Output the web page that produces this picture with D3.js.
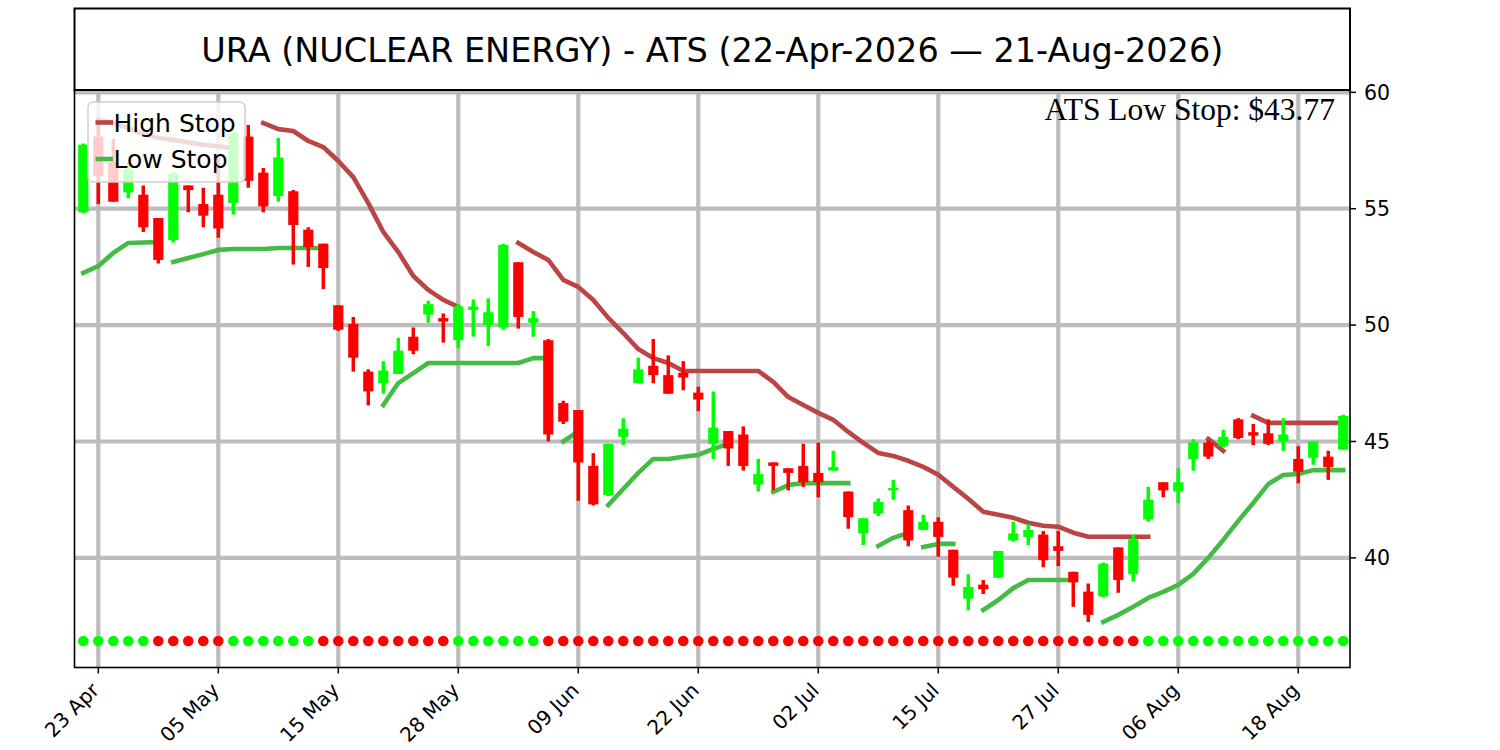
<!DOCTYPE html>
<html><head><meta charset="utf-8">
<script src="https://cdn.jsdelivr.net/npm/d3@7"></script>
<style>body{margin:0;background:#fff}svg{display:block}</style>
</head><body>
<svg id="c" width="1500" height="750"></svg>
<script>
const dates = ["2026-04-22","2026-04-23","2026-04-24","2026-04-27","2026-04-28","2026-04-29","2026-04-30",
"2026-05-01","2026-05-04","2026-05-05","2026-05-06","2026-05-07","2026-05-08","2026-05-11","2026-05-12","2026-05-13","2026-05-14","2026-05-15","2026-05-18","2026-05-19","2026-05-20","2026-05-21","2026-05-22","2026-05-26","2026-05-27","2026-05-28","2026-05-29",
"2026-06-01","2026-06-02","2026-06-03","2026-06-04","2026-06-05","2026-06-08","2026-06-09","2026-06-10","2026-06-11","2026-06-12","2026-06-15","2026-06-16","2026-06-17","2026-06-18","2026-06-22","2026-06-23","2026-06-24","2026-06-25","2026-06-26","2026-06-29","2026-06-30",
"2026-07-01","2026-07-02","2026-07-06","2026-07-07","2026-07-08","2026-07-09","2026-07-10","2026-07-13","2026-07-14","2026-07-15","2026-07-16","2026-07-17","2026-07-20","2026-07-21","2026-07-22","2026-07-23","2026-07-24","2026-07-27","2026-07-28","2026-07-29","2026-07-30","2026-07-31",
"2026-08-03","2026-08-04","2026-08-05","2026-08-06","2026-08-07","2026-08-10","2026-08-11","2026-08-12","2026-08-13","2026-08-14","2026-08-17","2026-08-18","2026-08-19","2026-08-20","2026-08-21"];

const open  = [54.85,58.1,57.0,55.7,55.6,54.6,53.65,56.0,55.2,55.6,55.25,58.1,56.55,55.55,55.75,54.1,53.5,50.85,50.05,48.0,47.5,47.9,49.5,50.45,50.3,49.35,50.65,50.0,49.9,52.7,50.1,49.35,46.65,46.35,43.95,42.7,45.2,47.5,48.25,47.85,47.95,47.1,44.9,45.45,45.3,43.15,44.1,43.85,43.95,43.65,43.75,42.85,41.05,41.9,42.9,42.05,41.2,41.55,40.35,38.25,38.85,39.15,40.75,40.9,41.0,40.5,39.4,38.55,38.35,40.45,39.3,41.65,43.25,42.85,44.25,44.95,44.8,45.95,45.4,45.35,45.0,44.25,44.3,44.35,44.65];
const high  = [57.8,58.6,58.0,57.0,56.0,54.6,56.6,56.0,55.9,57.3,58.3,58.6,56.75,58.05,55.8,54.2,53.5,50.85,50.35,48.1,48.45,49.45,49.9,51.05,50.5,50.9,51.1,51.15,53.5,52.7,50.6,49.4,46.75,46.35,44.5,44.9,46.0,48.6,49.4,48.7,48.45,47.35,47.15,45.45,45.65,44.25,44.1,43.85,44.9,44.95,44.6,42.85,41.7,42.55,43.35,42.25,41.85,41.75,40.35,39.3,39.05,40.3,41.55,41.45,41.15,41.15,39.4,38.9,39.8,40.45,41.0,43.05,43.25,43.85,45.1,45.05,45.5,46.0,45.75,45.95,46.0,44.8,45.0,44.6,46.15];
const low   = [54.8,55.2,55.3,55.45,54.0,52.65,53.55,54.85,54.2,53.75,54.75,55.9,54.85,55.3,52.6,52.5,51.55,49.75,48.0,46.55,47.05,47.9,48.75,50.1,49.25,49.0,49.5,49.1,49.8,49.85,49.5,45.0,45.75,42.45,42.25,42.65,44.85,47.5,47.5,47.05,47.2,46.3,44.25,43.95,43.75,42.85,42.9,42.9,43.05,42.6,43.75,41.25,40.55,41.8,42.5,40.5,41.2,40.05,38.8,37.75,38.45,39.15,40.7,40.55,39.6,39.65,37.9,37.25,38.3,38.5,39.0,41.55,42.6,42.35,43.75,44.25,44.75,45.1,44.85,44.85,44.6,43.2,44.0,43.35,44.65];
const close = [57.75,56.4,55.3,56.7,54.2,52.8,56.5,55.8,54.7,54.15,58.25,56.2,55.1,57.2,54.3,53.35,52.45,49.8,48.6,47.15,48.05,48.9,48.9,50.9,50.15,50.8,50.8,50.55,53.45,50.35,50.3,45.3,45.85,44.1,42.3,44.9,45.55,48.1,47.85,47.05,47.75,46.8,45.6,44.7,43.95,43.6,43.95,43.65,43.25,43.25,43.9,41.75,41.7,42.4,43.0,40.75,41.55,40.9,39.15,38.75,38.65,40.3,41.05,41.2,39.9,40.3,38.95,37.55,39.75,39.05,40.8,42.5,42.9,43.25,44.95,44.35,45.2,45.15,45.25,44.9,45.3,43.7,45.0,43.9,46.1];

const highStop = [null,58.8,58.7,58.45,58.2,58.05,57.95,57.85,57.75,57.68,57.6,null,
58.68,58.42,58.34,57.91,57.65,57.05,56.36,55.24,54.0,53.14,52.11,51.51,51.08,50.78,null,null,null,
53.53,53.14,52.8,51.94,51.64,51.08,50.31,49.66,48.97,48.58,48.37,48.03,48.03,48.03,48.03,48.03,48.03,47.56,46.91,46.57,46.23,45.93,45.41,44.94,44.51,44.38,44.17,43.91,43.57,43.05,42.54,41.98,41.85,41.72,41.51,41.38,41.34,41.08,40.91,40.91,40.91,40.91,40.91,
null,null,null,45.11,44.6,null,46.1,45.8,45.8,45.8,45.8,45.8,45.8];
const highStopBreaks = [];

const lowStop = [52.24,52.54,53.1,53.53,53.55,53.57,52.71,52.88,53.05,53.23,53.27,53.27,53.27,53.31,53.31,53.31,53.31,null,null,null,
46.57,47.51,47.94,48.37,48.37,48.37,48.37,48.37,48.37,48.37,48.58,48.58,45.0,45.43,null,
42.27,42.96,43.65,44.25,44.25,44.34,44.42,44.68,44.9,null,null,
42.83,43.13,43.21,43.21,43.21,43.21,null,40.51,40.86,41.07,40.47,40.6,40.6,null,
37.76,38.19,38.7,39.05,39.05,39.05,39.05,null,
37.25,37.55,37.9,38.28,38.54,38.84,39.31,40.0,40.77,41.59,42.36,43.17,43.56,43.6,43.77,43.77,43.77];
const lowStopBreaks = [6, 32, 56];

// 1 = up trend (green dot), -1 = down trend (red dot)
const trend = [1,1,1,1,1,-1,-1,-1,-1,-1,1,1,1,1,1,1,-1,-1,-1,-1,-1,-1,-1,-1,-1,1,1,1,1,1,1,
-1,-1,-1,-1,-1,-1,-1,-1,-1,-1,-1,-1,-1,-1,-1,-1,-1,-1,-1,-1,-1,-1,-1,-1,-1,-1,-1,-1,-1,-1,-1,-1,-1,-1,-1,-1,-1,-1,-1,-1,
1,1,1,1,1,1,1,1,1,1,1,1,1,1];
const dotLevel = 36.43;

const xTickDates = ["2026-04-23","2026-05-05","2026-05-15","2026-05-28","2026-06-09","2026-06-22","2026-07-02","2026-07-15","2026-07-27","2026-08-06","2026-08-18"];
const yTicks = [40,45,50,55,60];

const titleText = "URA (NUCLEAR ENERGY) - ATS (22-Apr-2026 \u2014 21-Aug-2026)";
const annotText = "ATS Low Stop: $" + lowStop[lowStop.length-1].toFixed(2);
const legendItems = [{label:"High Stop", color:"#bb4444"},{label:"Low Stop", color:"#44bb44"}];

const UP = "#00ff00", DOWN = "#ff0000";
const L = 74.5, R = 1350, T = 90, B = 667.5;

const svg = d3.select("#c");
const x = d3.scaleLinear().domain([-0.587, 84.45]).range([L, R]);
const y = d3.scaleLinear().domain([35.29, 60.1]).range([B, T]);

const plot = svg.append("g");
plot.append("clipPath").attr("id","clip").append("rect").attr("x",L).attr("y",T).attr("width",R-L).attr("height",B-T);
const inner = plot.append("g").attr("clip-path","url(#clip)");

// grid
const tickIdx = xTickDates.map(d => dates.indexOf(d));
inner.selectAll(".vg").data(tickIdx).join("line")
  .attr("x1", d => x(d)).attr("x2", d => x(d)).attr("y1", T).attr("y2", B)
  .attr("stroke", "#bcbcbc").attr("stroke-width", 4.2);
inner.selectAll(".hg").data(yTicks).join("line")
  .attr("x1", L).attr("x2", R).attr("y1", d => y(d)).attr("y2", d => y(d))
  .attr("stroke", "#bcbcbc").attr("stroke-width", 4.2);

// stop lines split into segments
function segments(arr, breaks) {
  const segs = []; let cur = [];
  arr.forEach((v, i) => {
    if (v == null || breaks.includes(i)) { if (cur.length) segs.push(cur); cur = []; }
    if (v != null) cur.push([i, v]);
  });
  if (cur.length) segs.push(cur);
  return segs;
}
const line = d3.line().x(d => x(d[0])).y(d => y(d[1]));
inner.selectAll(".hs").data(segments(highStop, highStopBreaks)).join("path")
  .attr("d", line).attr("fill","none").attr("stroke", legendItems[0].color)
  .attr("stroke-width", 4.6).attr("stroke-linecap","square").attr("stroke-linejoin","round");
inner.selectAll(".ls").data(segments(lowStop, lowStopBreaks)).join("path")
  .attr("d", line).attr("fill","none").attr("stroke", legendItems[1].color)
  .attr("stroke-width", 4.6).attr("stroke-linecap","square").attr("stroke-linejoin","round");

// candles
const idx = d3.range(dates.length);
const bw = x(0.68) - x(0);
inner.selectAll(".wick").data(idx).join("line")
  .attr("x1", i => x(i)).attr("x2", i => x(i))
  .attr("y1", i => y(high[i])).attr("y2", i => y(low[i]))
  .attr("stroke", i => close[i] >= open[i] ? UP : DOWN).attr("stroke-width", 3.5);
inner.selectAll(".body").data(idx).join("rect")
  .attr("x", i => x(i) - bw/2).attr("width", bw)
  .attr("y", i => y(Math.max(open[i], close[i])))
  .attr("height", i => Math.max(1.5, Math.abs(y(open[i]) - y(close[i]))))
  .attr("fill", i => close[i] >= open[i] ? UP : DOWN);

// trend dots
inner.selectAll(".dot").data(idx).join("circle")
  .attr("cx", i => x(i)).attr("cy", y(dotLevel)).attr("r", 5.3)
  .attr("fill", i => trend[i] > 0 ? UP : DOWN);

// frame
plot.append("rect").attr("x", L).attr("y", T).attr("width", R-L).attr("height", B-T)
  .attr("fill","none").attr("stroke","#000").attr("stroke-width",1.6);

// x axis ticks
const fmt = d3.timeFormat("%d %b"), parse = d3.timeParse("%Y-%m-%d");
const xt = plot.selectAll(".xt").data(tickIdx).join("g");
xt.append("line").attr("x1", d => x(d)).attr("x2", d => x(d)).attr("y1", B).attr("y2", B+6)
  .attr("stroke","#000").attr("stroke-width",1.5);
xt.append("text").text(d => fmt(parse(dates[d])))
  .attr("transform", d => `translate(${x(d)+2},${B+24}) rotate(-45)`)
  .attr("text-anchor","end").attr("font-family","DejaVu Sans").attr("font-size",20).attr("fill","#000");

// y axis ticks (right)
const yt = plot.selectAll(".yt").data(yTicks).join("g");
yt.append("line").attr("x1", R).attr("x2", R+6).attr("y1", d => y(d)).attr("y2", d => y(d))
  .attr("stroke","#000").attr("stroke-width",1.5);
yt.append("text").text(d => d).attr("x", R+14).attr("y", d => y(d)).attr("dy","0.36em")
  .attr("font-family","DejaVu Sans").attr("font-size",20.5).attr("fill","#000");

// title box
svg.append("rect").attr("x", L).attr("y", 8.5).attr("width", R-L).attr("height", T-8.5)
  .attr("fill","#fff").attr("stroke","#000").attr("stroke-width",2);
svg.append("text").text(titleText).attr("x", (L+R)/2).attr("y", 61.5).attr("text-anchor","middle")
  .attr("font-family","DejaVu Sans").attr("font-size",33.5).attr("fill","#000");

// legend
const lg = svg.append("g");
lg.append("rect").attr("x",88).attr("y",102).attr("width",157).attr("height",80).attr("rx",5)
  .attr("fill","#fff").attr("fill-opacity",0.8).attr("stroke","#d0d0d0").attr("stroke-width",1.5);
legendItems.forEach((it, k) => {
  const yy = 122.5 + k*36.5;
  lg.append("line").attr("x1",95.5).attr("x2",113).attr("y1",yy).attr("y2",yy)
    .attr("stroke",it.color).attr("stroke-width",4.6);
  lg.append("text").text(it.label).attr("x",113.5).attr("y",yy+9)
    .attr("font-family","DejaVu Sans").attr("font-size",25).attr("fill","#000");
});

// annotation
svg.append("text").text(annotText).attr("x",1335).attr("y",119.5).attr("text-anchor","end")
  .attr("font-family","Liberation Serif").attr("font-size",31.5).attr("fill","#000");
</script>
</body></html>
